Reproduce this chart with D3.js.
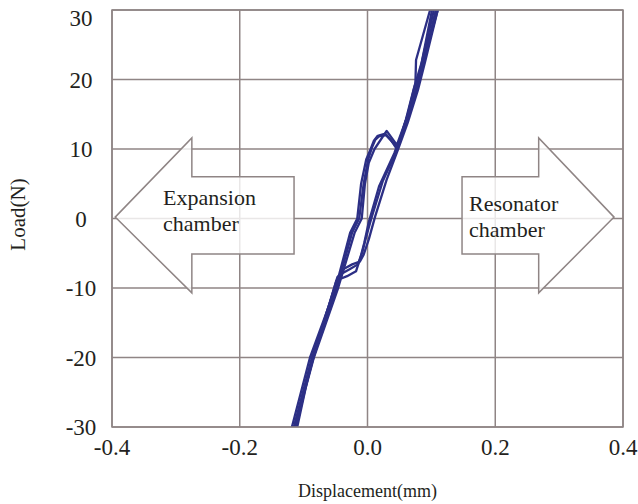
<!DOCTYPE html>
<html>
<head>
<meta charset="utf-8">
<script src="https://cdn.jsdelivr.net/npm/d3@7/dist/d3.min.js"></script>
<style>
  body { margin: 0; background: #fff; }
  text { font-family: "Liberation Serif", "Times New Roman", serif; fill: #231f20; }
</style>
</head>
<body>
<svg id="chart"></svg>
<script>
const width = 638, height = 504
const margin = {top: 10, right: 15, bottom: 77, left: 112}

// ticks
const xTicks = [-0.4, -0.2, 0.0, 0.2, 0.4]
const xTickLabels = ['-0.4', '-0.2', '0.0', '0.2', '0.4']
const yTicks = [30, 20, 10, 0, -10, -20, -30]

// hysteresis cycles, [displacement(mm), load(N)]; ends run just past the frame
const cycle1 = [
  [-0.124, -32], [-0.090, -20], [-0.050, -10], [-0.027, -2], [-0.016, 0], [-0.010, 5], [-0.002, 8.5],
  [0.005, 10], [0.010, 11.2], [0.016, 11.9], [0.028, 12.2], [0.036, 11.4], [0.046, 10],
  [0.060, 14.2], [0.072, 18.5], [0.085, 22.5], [0.104, 30], [0.108, 32],
  [0.114, 32], [0.110, 30], [0.090, 22.5], [0.079, 18.5], [0.063, 13.8], [0.048, 10], [0.030, 5.6], [0.012, 0.3],
  [0.002, -3], [-0.006, -5.2], [-0.012, -6.2], [-0.024, -6.6], [-0.036, -7.2], [-0.047, -8.4],
  [-0.060, -12.5], [-0.086, -20.5], [-0.114, -30], [-0.117, -32]
]
const cycle2 = [
  [-0.121, -32], [-0.087, -20], [-0.048, -10], [-0.024, -2], [-0.013, 0], [-0.006, 5], [0.001, 8.5],
  [0.007, 10.2], [0.012, 11.3], [0.018, 11.8], [0.029, 12], [0.037, 11.2], [0.047, 10.2],
  [0.063, 15], [0.075, 19.5], [0.076, 22.8], [0.098, 30], [0.103, 32],
  [0.111, 32], [0.107, 30], [0.086, 22], [0.076, 18], [0.060, 13.6], [0.045, 9.6], [0.024, 5.4], [0.006, 0],
  [-0.002, -2.6], [-0.008, -4.8], [-0.015, -6.6], [-0.028, -7.3], [-0.040, -7.9], [-0.049, -9],
  [-0.062, -13], [-0.088, -21], [-0.112, -30], [-0.115, -32]
]
const cycle3 = [
  [-0.119, -32], [-0.084, -20], [-0.046, -10], [-0.020, -2], [-0.009, 0], [-0.004, 5], [0.002, 8],
  [0.011, 10], [0.030, 12.6], [0.046, 10.6],
  [0.066, 15.6], [0.080, 20], [0.092, 24], [0.110, 30], [0.115, 32],
  [0.105, 32], [0.101, 30], [0.083, 21.6], [0.073, 17.6], [0.057, 13.2], [0.042, 9.4], [0.018, 4.6], [0.002, -0.5],
  [-0.005, -3.5], [-0.011, -5.6], [-0.018, -7.6], [-0.032, -8.3], [-0.043, -8.7], [-0.050, -9.6],
  [-0.064, -13.5], [-0.090, -21.5], [-0.110, -30], [-0.113, -32]
]
const cycles = [cycle1, cycle2, cycle3]

// arrow outlines and their captions
const leftArrow = [[-0.395, 0.2], [-0.275, 11.6], [-0.275, 6], [-0.115, 6],
                   [-0.115, -5.1], [-0.275, -5.1], [-0.275, -10.7]]
const rightArrow = [[0.386, 0.2], [0.268, 11.6], [0.268, 6], [0.148, 6],
                    [0.148, -5.1], [0.268, -5.1], [0.268, -10.7]]
const arrowLabels = [
  {lines: ['Expansion', 'chamber'], at: [-0.32, 1.9]},
  {lines: ['Resonator', 'chamber'], at: [0.159, 1.1]}
]

const svg = d3.select('#chart')
  .attr('width', width)
  .attr('height', height)

const x = d3.scaleLinear().domain([-0.4, 0.4]).range([margin.left, width - margin.right])
const y = d3.scaleLinear().domain([-30, 30]).range([height - margin.bottom, margin.top])

const gridColor = '#8f8585'

svg.append('clipPath')
  .attr('id', 'plot-clip')
  .append('rect')
  .attr('x', x(-0.4)).attr('y', y(30))
  .attr('width', x(0.4) - x(-0.4)).attr('height', y(-30) - y(30))

// grid
svg.append('g')
  .selectAll('line')
  .data(xTicks)
  .join('line')
  .attr('x1', d => x(d)).attr('x2', d => x(d))
  .attr('y1', y(-30)).attr('y2', y(30))
  .attr('stroke', gridColor).attr('stroke-width', 1.5)

svg.append('g')
  .selectAll('line')
  .data(yTicks)
  .join('line')
  .attr('x1', x(-0.4)).attr('x2', x(0.4))
  .attr('y1', d => y(d)).attr('y2', d => y(d))
  .attr('stroke', gridColor).attr('stroke-width', 1.5)

// direction arrows
svg.append('g')
  .selectAll('path')
  .data([leftArrow, rightArrow])
  .join('path')
  .attr('d', d => d3.line().x(p => x(p[0])).y(p => y(p[1]))(d) + 'Z')
  .attr('fill', '#fff').attr('fill-opacity', 0.8)
  .attr('stroke', gridColor).attr('stroke-width', 1.5)

arrowLabels.forEach(t => {
  t.lines.forEach((s, i) => {
    svg.append('text')
      .attr('x', x(t.at[0]))
      .attr('y', y(t.at[1]) + i * 26)
      .attr('font-size', 22)
      .text(s)
  })
})

// curves
const line = d3.line().x(d => x(d[0])).y(d => y(d[1]))
svg.append('g')
  .attr('clip-path', 'url(#plot-clip)')
  .selectAll('path')
  .data(cycles)
  .join('path')
  .attr('d', line)
  .attr('fill', 'none')
  .attr('stroke', '#2c2f85')
  .attr('stroke-width', 2.3)
  .attr('stroke-linejoin', 'round')

// frame
svg.append('rect')
  .attr('x', x(-0.4)).attr('y', y(30))
  .attr('width', x(0.4) - x(-0.4)).attr('height', y(-30) - y(30))
  .attr('fill', 'none').attr('stroke', gridColor).attr('stroke-width', 1.5)

// tick labels
svg.append('g')
  .selectAll('text')
  .data(xTicks)
  .join('text')
  .attr('x', d => x(d))
  .attr('y', y(-30) + 28)
  .attr('text-anchor', 'middle')
  .attr('font-size', 23)
  .text((d, i) => xTickLabels[i])

// top label sits a little lower so it stays inside the page
svg.append('g')
  .selectAll('text')
  .data(yTicks)
  .join('text')
  .attr('x', 81)
  .attr('y', d => Math.max(y(d) + 8, 26))
  .attr('text-anchor', 'middle')
  .attr('font-size', 23)
  .text(d => d)

// axis titles
svg.append('text')
  .attr('x', x(0))
  .attr('y', 497)
  .attr('text-anchor', 'middle')
  .attr('font-size', 18)
  .text('Displacement(mm)')

svg.append('text')
  .attr('transform', `translate(25,${y(0) - 4}) rotate(-90)`)
  .attr('text-anchor', 'middle')
  .attr('font-size', 21)
  .text('Load(N)')
</script>
</body>
</html>
